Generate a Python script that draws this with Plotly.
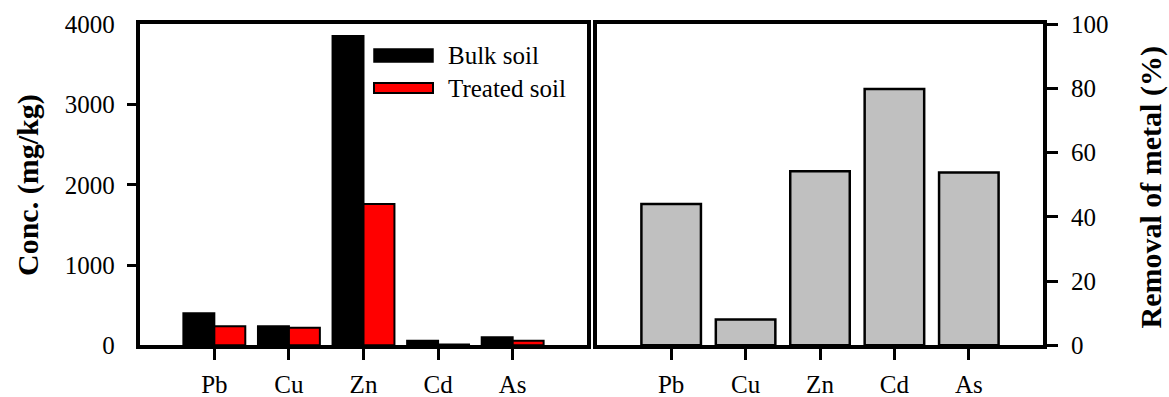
import plotly.graph_objects as go

metals = ["Pb", "Cu", "Zn", "Cd", "As"]
bulk_soil = [400, 237, 3855, 55, 100]
treated_soil = [237, 218, 1760, 8, 55]
removal_pct = [44, 8, 54.2, 79.8, 53.8]
conc_ticks = [0, 1000, 2000, 3000, 4000]
removal_ticks = [0, 20, 40, 60, 80, 100]

W, H = 1169, 397
FONT = "Liberation Serif"
LW = 3.5

def px(x):
    return x / W

def py(y):
    return 1 - y / H

fig = go.Figure()
fig.add_trace(go.Bar(x=metals, y=bulk_soil, name="Bulk soil", xaxis="x", yaxis="y",
                     marker=dict(color="black", line=dict(color="black", width=2)),
                     offsetgroup="a", alignmentgroup="g", showlegend=False))
fig.add_trace(go.Bar(x=metals, y=treated_soil, name="Treated soil", xaxis="x", yaxis="y3",
                     marker=dict(color="#ff0000", line=dict(color="black", width=2)),
                     offsetgroup="b", alignmentgroup="g", showlegend=False))
fig.add_trace(go.Bar(x=metals, y=removal_pct, name="Removal", xaxis="x2", yaxis="y2",
                     marker=dict(color="#c0c0c0", line=dict(color="black", width=2.5)),
                     width=0.8, showlegend=False))

ydom = [py(347 - LW / 2), py(22.5 + LW / 2)]
tickfont = dict(family=FONT, size=25, color="black")

common_x = dict(type="category", range=[-1, 5], showline=True, linecolor="black",
                linewidth=LW, mirror=True, ticks="outside", ticklen=11, tickwidth=3,
                tickcolor="black", tickfont=tickfont, showgrid=False, zeroline=False,
                ticklabelstandoff=3, automargin=False)

fig.update_layout(
    width=W, height=H, margin=dict(l=0, r=0, t=0, b=0, autoexpand=False),
    paper_bgcolor="white", plot_bgcolor="white",
    barmode="group", bargap=0.17, bargroupgap=0.0,
    font=dict(family=FONT, color="black"),
    xaxis=dict(domain=[px(138 + LW / 2), px(589 - LW / 2)], anchor="y", **common_x),
    xaxis2=dict(domain=[px(595 + LW / 2), px(1045 - LW / 2)], anchor="y2", **common_x),
    yaxis=dict(domain=ydom, anchor="x", range=[0, 4000], tickmode="array",
               tickvals=conc_ticks[1:-1], showticklabels=False,
               showline=True, linecolor="black", linewidth=LW, mirror=True,
               ticks="outside", ticklen=9, tickwidth=3, tickcolor="black",
               showgrid=False, zeroline=False, automargin=False),
    yaxis3=dict(anchor="x", overlaying="y", side="left", range=[0, 4000],
                tickmode="array", tickvals=conc_ticks, ticks="", showline=False,
                tickfont=tickfont, showgrid=False, zeroline=False, ticklabelstandoff=24,
                automargin=False),
    yaxis2=dict(domain=ydom, anchor="x2", side="right", range=[0, 100], tickmode="array",
                tickvals=removal_ticks, showline=True, linecolor="black", linewidth=LW,
                mirror=True, ticks="outside", ticklen=11, tickwidth=3, tickcolor="black",
                tickfont=tickfont, showgrid=False, zeroline=False, ticklabelstandoff=8,
                automargin=False),
)

# legend drawn as boxes + text
fig.add_shape(type="rect", xref="paper", yref="paper", x0=px(374), x1=px(433),
              y0=py(62), y1=py(49), fillcolor="black", line=dict(color="black", width=1.5))
fig.add_shape(type="rect", xref="paper", yref="paper", x0=px(374), x1=px(433),
              y0=py(93), y1=py(83), fillcolor="#ff0000", line=dict(color="black", width=2))
fig.add_annotation(text="Bulk soil", x=px(446), y=py(56), xref="paper", yref="paper",
                   xanchor="left", yanchor="middle", showarrow=False,
                   font=dict(family=FONT, size=25, color="black"))
fig.add_annotation(text="Treated soil", x=px(446), y=py(88), xref="paper", yref="paper",
                   xanchor="left", yanchor="middle", showarrow=False,
                   font=dict(family=FONT, size=25, color="black"))

# axis titles
fig.add_annotation(text="<b>Conc. (mg/kg)</b>", x=px(28), y=py(185), xref="paper",
                   yref="paper", xanchor="center", yanchor="middle", textangle=-90,
                   showarrow=False, font=dict(family=FONT, size=30, color="black"))
fig.add_annotation(text="<b>Removal of metal (%)</b>", x=px(1150), y=py(187.5),
                   xref="paper", yref="paper", xanchor="center", yanchor="middle",
                   textangle=-90, showarrow=False,
                   font=dict(family=FONT, size=30, color="black"))

fig.write_html("out.html")
